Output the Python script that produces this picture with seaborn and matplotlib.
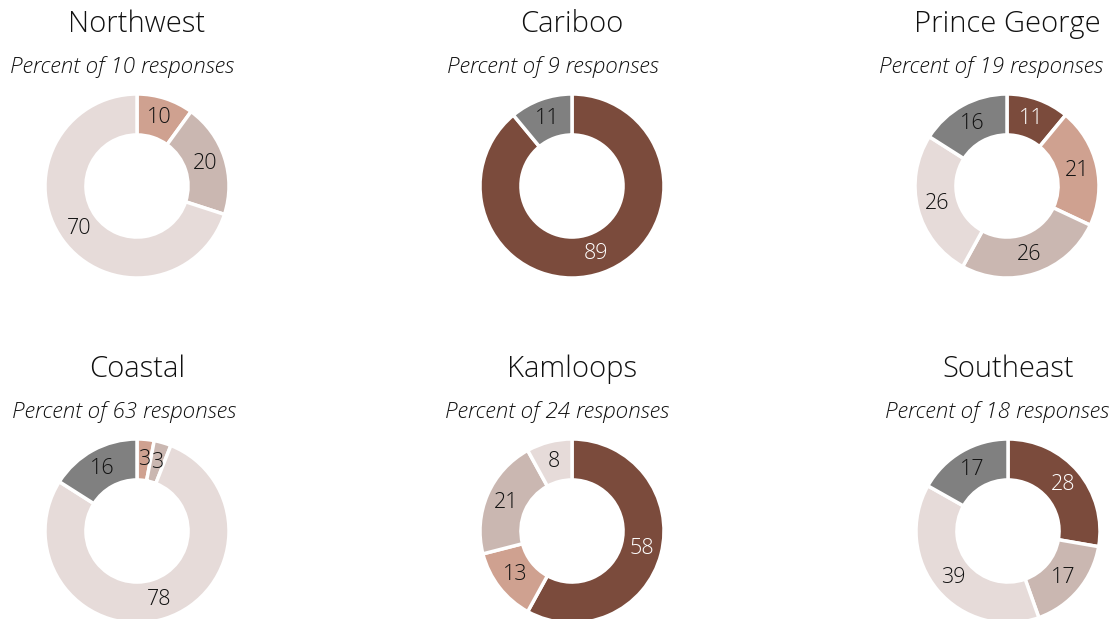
import matplotlib.pyplot as plt
import seaborn as sns

sns.set_theme(style="white")
plt.rcParams['font.family'] = ['Open Sans', 'DejaVu Sans']

# categories in clockwise order from 12 o'clock
categories = ['Cat 1', 'Cat 2', 'Cat 3', 'Cat 4', 'Cat 5']
colors = ['#7B4B3C', '#CFA190', '#CAB7B1', '#E6DBD9', '#808080']
text_colors = ['white', '#111111', '#111111', '#111111', '#111111']

regions = ['Northwest', 'Cariboo', 'Prince George', 'Coastal', 'Kamloops', 'Southeast']
responses = [10, 9, 19, 63, 24, 18]
northwest = [0, 10, 20, 70, 0]
cariboo = [89, 0, 0, 0, 11]
prince_george = [11, 21, 26, 26, 16]
coastal = [0, 3, 3, 78, 16]
kamloops = [58, 13, 21, 8, 0]
southeast = [28, 0, 17, 39, 17]
values = [northwest, cariboo, prince_george, coastal, kamloops, southeast]

W, H = 1114, 619
fig = plt.figure(figsize=(W / 100, H / 100), dpi=100)

centers = [(137, 186), (572, 186), (1007, 186),
           (137, 531), (572, 531), (1008, 531)]
R = 92
sub_shift = [-15, -19, -16, -13, -15, -11]

for i, name in enumerate(regions):
    cx, cy = centers[i]
    ax = fig.add_axes([(cx - R) / W, (H - cy - R) / H, 2 * R / W, 2 * R / H])
    vals = [v for v in values[i] if v > 0]
    cols = [c for v, c in zip(values[i], colors) if v > 0]
    tcols = [c for v, c in zip(values[i], text_colors) if v > 0]
    wedges, texts = ax.pie(vals, colors=cols, startangle=90, counterclock=False,
                           radius=1, labels=[str(v) for v in vals], labeldistance=0.78,
                           wedgeprops=dict(width=0.445, edgecolor='white', linewidth=2.5),
                           textprops=dict(fontsize=15.5, ha='center', va='center',
                                          fontweight='light'))
    for t, tc in zip(texts, tcols):
        t.set_color(tc)
    ax.set_xlim(-1.0, 1.0)
    ax.set_ylim(-1.0, 1.0)
    ax.set_aspect('equal')
    ax.axis('off')

    fig.text(cx / W, 1 - (cy - 162) / H, name, ha='center', va='center',
             fontsize=21, fontweight='light', color='#111111')
    fig.text((cx + sub_shift[i]) / W, 1 - (cy - 119) / H,
             f'Percent of {responses[i]} responses', ha='center', va='center',
             fontsize=16.2, style='italic', fontweight='light', color='#111111')

fig.savefig('out.png', dpi=100)
